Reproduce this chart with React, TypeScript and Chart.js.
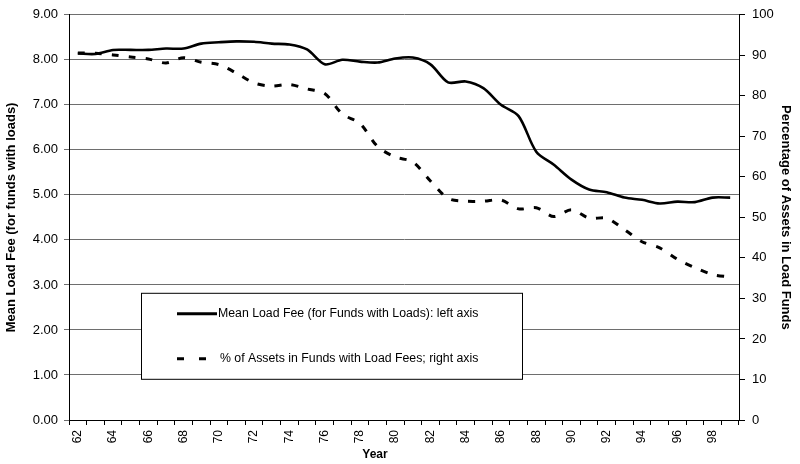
import React, { useEffect, useRef } from 'react';
import { Chart, registerables } from 'chart.js';

Chart.register(...registerables);

const years = [
  '62', '63', '64', '65', '66', '67', '68', '69', '70', '71',
  '72', '73', '74', '75', '76', '77', '78', '79', '80', '81',
  '82', '83', '84', '85', '86', '87', '88', '89', '90', '91',
  '92', '93', '94', '95', '96', '97', '98', '99',
];

const meanLoadFee = [
  8.14, 8.13, 8.22, 8.22, 8.22, 8.25, 8.25, 8.36, 8.39, 8.41,
  8.40, 8.36, 8.34, 8.23, 7.90, 8.00, 7.96, 7.94, 8.03, 8.05,
  7.90, 7.50, 7.52, 7.37, 7.00, 6.75, 5.96, 5.67, 5.34, 5.12,
  5.06, 4.94, 4.89, 4.81, 4.85, 4.84, 4.94, 4.94,
];

const pctAssetsInLoadFunds = [
  90.6, 90.5, 90.1, 89.6, 89.1, 88.1, 89.4, 88.3, 87.7, 85.6,
  83.2, 82.4, 82.8, 81.7, 80.6, 75.5, 73.2, 67.5, 64.9, 63.7,
  59.0, 54.7, 54.0, 54.0, 54.3, 52.1, 52.4, 50.2, 51.9, 49.8,
  49.8, 47.0, 44.0, 42.5, 39.7, 37.6, 35.9, 35.3,
];

const seriesNames = [
  'Mean Load Fee (for Funds with Loads): left axis',
  '% of Assets in Funds with Load Fees; right axis',
];

const leftTitle = 'Mean Load Fee (for funds with loads)';
const rightTitle = 'Percentage of Assets in Load Funds';
const xTitle = 'Year';

const FONT = 'Arial, "Liberation Sans", sans-serif';

const boxLegendPlugin = {
  id: 'boxLegend',
  afterDraw(chart: any) {
    const { ctx, chartArea: ca } = chart;
    ctx.save();
    const x0 = ca.left + 72;
    const y0 = ca.top + 278;
    const w = 381;
    const h = 86;
    ctx.fillStyle = '#ffffff';
    ctx.fillRect(x0, y0, w, h);
    ctx.strokeStyle = '#000000';
    ctx.lineWidth = 1;
    ctx.strokeRect(x0 + 0.5, y0 + 0.5, w, h);

    ctx.fillStyle = '#000000';
    ctx.font = `12.3px ${FONT}`;
    ctx.textBaseline = 'middle';
    ctx.textAlign = 'left';

    // solid sample
    ctx.lineWidth = 3;
    ctx.setLineDash([]);
    ctx.beginPath();
    ctx.moveTo(x0 + 36, y0 + 21);
    ctx.lineTo(x0 + 76, y0 + 21);
    ctx.stroke();
    ctx.fillText(seriesNames[0], x0 + 77, y0 + 21);

    // dashed sample
    ctx.setLineDash([7, 15]);
    ctx.beginPath();
    ctx.moveTo(x0 + 36, y0 + 66);
    ctx.lineTo(x0 + 65, y0 + 66);
    ctx.stroke();
    ctx.setLineDash([]);
    ctx.fillText(seriesNames[1], x0 + 79, y0 + 66);

    // x axis title
    ctx.font = `bold 12px ${FONT}`;
    ctx.textAlign = 'center';
    ctx.fillText(xTitle, ca.left + 306, chart.height - 9);
    ctx.restore();
  },
};

export default function App() {
  const canvasRef = useRef<HTMLCanvasElement | null>(null);

  useEffect(() => {
    if (!canvasRef.current) return;
    const chart = new Chart(canvasRef.current, {
      type: 'line',
      data: {
        labels: years,
        datasets: [
          {
            label: seriesNames[0],
            data: meanLoadFee,
            yAxisID: 'y',
            borderColor: '#000000',
            backgroundColor: '#000000',
            borderWidth: 2.6,
            pointRadius: 0,
            tension: 0.3,
            fill: false,
          },
          {
            label: seriesNames[1],
            data: pctAssetsInLoadFunds,
            yAxisID: 'y1',
            borderColor: '#000000',
            backgroundColor: '#000000',
            borderWidth: 3,
            borderDash: [7, 10],
            pointRadius: 0,
            tension: 0.3,
            fill: false,
          },
        ],
      },
      options: {
        responsive: false,
        animation: false,
        layout: { padding: { top: 10, left: 0, right: 0, bottom: 0 } },
        plugins: {
          legend: { display: false },
          tooltip: { enabled: false },
        },
        scales: {
          x: {
            type: 'category',
            offset: true,
            grid: {
              offset: true,
              drawOnChartArea: false,
              drawTicks: true,
              tickLength: 5,
              color: '#000000',
            },
            border: { display: true, color: '#000000', width: 1 },
            ticks: {
              autoSkip: false,
              minRotation: 90,
              maxRotation: 90,
              padding: 5,
              color: '#000000',
              font: { family: FONT, size: 12 },
              callback: (_v: any, i: number) => (i % 2 === 0 ? years[i] : ''),
            },
            afterFit: (s: any) => {
              s.height = 44;
            },
          },
          y: {
            position: 'left',
            min: 0,
            max: 9,
            grid: {
              drawOnChartArea: true,
              color: '#6e6e6e',
              lineWidth: 1,
              tickLength: 5,
            },
            border: { display: true, color: '#000000', width: 1 },
            ticks: {
              stepSize: 1,
              padding: 6,
              color: '#000000',
              font: { family: FONT, size: 13 },
              callback: (v: any) => Number(v).toFixed(2),
            },
            title: {
              display: true,
              text: leftTitle,
              color: '#000000',
              font: { family: FONT, size: 13, weight: 'bold' },
              padding: { top: 4, bottom: 0 },
            },
            afterFit: (s: any) => {
              s.width = 69;
            },
          },
          y1: {
            position: 'right',
            min: 0,
            max: 100,
            grid: {
              drawOnChartArea: false,
              color: '#000000',
              tickLength: 6,
            },
            border: { display: true, color: '#000000', width: 1 },
            ticks: {
              stepSize: 10,
              padding: 7,
              color: '#000000',
              font: { family: FONT, size: 13 },
            },
            title: {
              display: true,
              text: rightTitle,
              color: '#000000',
              font: { family: FONT, size: 13, weight: 'bold' },
              padding: { top: 7, bottom: 0 },
            },
            afterFit: (s: any) => {
              s.width = 61;
            },
          },
        },
      },
      plugins: [boxLegendPlugin],
    });
    return () => chart.destroy();
  }, []);

  return (
    <div style={{ position: 'absolute', left: 0, top: 0, width: 800, height: 464, background: '#ffffff' }}>
      <canvas ref={canvasRef} width={800} height={464} />
    </div>
  );
}
